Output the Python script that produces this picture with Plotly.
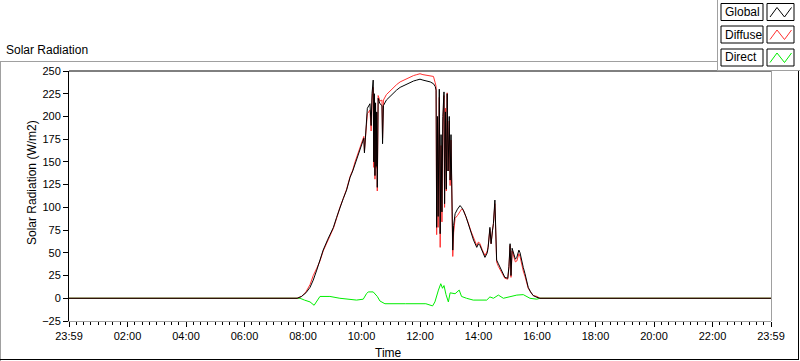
import plotly.graph_objects as go

# ---------------- data (hours since 23:59 of previous day) ----------------
global_t = [0.0, 7.80, 7.95, 8.10, 8.24, 8.35, 8.47, 8.58, 8.69, 8.85, 9.04, 9.15, 9.26, 9.38, 9.49,
            9.61, 9.70, 9.78, 9.90, 10.00, 10.08, 10.10, 10.13, 10.20, 10.29, 10.33, 10.36, 10.40,
            10.42, 10.44, 10.46, 10.48, 10.50, 10.52, 10.54, 10.57, 10.63, 10.70, 10.72, 10.75,
            10.85, 10.97, 11.10, 11.20, 11.32, 11.45, 11.55, 11.66, 11.78, 11.89, 12.00, 12.10,
            12.23, 12.35, 12.46, 12.52, 12.55, 12.57, 12.60, 12.62, 12.66, 12.69, 12.72, 12.75,
            12.78, 12.82, 12.84, 12.87, 12.90, 12.93, 12.96, 13.00, 13.03, 13.06, 13.10, 13.12,
            13.15, 13.20, 13.28, 13.37, 13.42, 13.48, 13.57, 13.65, 13.74, 13.83, 13.94, 14.00,
            14.05, 14.12, 14.22, 14.30, 14.33, 14.39, 14.43, 14.48, 14.51, 14.56, 14.59, 14.62,
            14.68, 14.74, 14.82, 14.90, 15.00, 15.04, 15.08, 15.11, 15.15, 15.20, 15.26, 15.31,
            15.38, 15.42, 15.47, 15.53, 15.59, 15.65, 15.70, 15.78, 15.87, 16.00, 16.10, 24.0]

global_v = [0, 0, 2, 6, 12, 20, 31, 42, 53, 65, 78, 89, 100, 110, 119,
            133, 140, 148, 160, 170, 176, 160, 178, 209, 214, 190, 225, 240,
            150, 225, 135, 215, 145, 205, 122, 220, 214, 212, 170, 212,
            218, 222, 226, 229, 232, 234, 236, 238, 239, 240, 241, 240,
            239, 238, 236, 233, 229, 78, 200, 90, 230, 71, 180, 95,
            200, 227, 104, 205, 120, 225, 140, 200, 130, 180, 95, 53,
            80, 93, 98, 102, 100, 97, 90, 82, 72, 64, 56, 60,
            58, 52, 45, 50, 56, 78, 60, 75, 82, 108, 70, 42,
            38, 34, 28, 23, 22, 35, 60, 25, 55, 50, 43, 45,
            53, 50, 42, 34, 27, 18, 12, 7, 3, 1, 0, 0]

diffuse_v = [0, 0, 2, 7, 15, 25, 33, 41, 52, 64, 77, 88, 100, 110, 120,
             134, 141, 150, 162, 172, 178, 162, 177, 203, 207, 184, 218, 232,
             144, 220, 131, 212, 143, 204, 118, 223, 217, 218, 176, 218,
             224, 228, 232, 235, 238, 240, 242, 244, 245, 246, 247, 246,
             245, 244, 244, 237, 233, 70, 194, 78, 221, 56, 168, 84,
             186, 223, 100, 209, 118, 226, 140, 195, 124, 174, 88, 46,
             72, 88, 91, 95, 98, 97, 90, 83, 74, 66, 58, 62,
             60, 54, 47, 52, 57, 76, 60, 75, 82, 104, 68, 40,
             35, 31, 27, 22, 21, 33, 58, 23, 52, 47, 40, 41,
             49, 46, 38, 30, 24, 16, 11, 7, 3, 2, 0, 0]

direct_t = [0.0, 7.90, 8.05, 8.24, 8.38, 8.47, 8.58, 8.92, 9.26, 9.83, 10.06, 10.17, 10.23,
            10.40, 10.45, 10.54, 10.63, 10.80, 11.50, 12.20, 12.43, 12.51, 12.63, 12.71,
            12.77, 12.82, 12.89, 12.97, 13.03, 13.20, 13.34, 13.42, 13.59, 13.82, 14.28,
            14.39, 14.51, 14.68, 14.85, 15.08, 15.31, 15.53, 15.65, 15.76, 15.99, 16.10, 24.0]
direct_v = [0, 0, -2, -4, -7.7, -3, 2, 2, 0, -2, -1, 5, 7,
            7, 5, 2, -3, -6, -6, -6, -8.4, -4, 9, 16,
            11, 14, 4, -4, 6, 5, 9, 2, 0, -2, -2,
            1.5, 0, 3.5, 0, 1.5, 3.5, 4, 1.5, 0, -1, 0, 0]

tick_vals = [0, 2, 4, 6, 8, 10, 12, 14, 16, 18, 20, 22, 24]
tick_text = ["23:59", "02:00", "04:00", "06:00", "08:00", "10:00", "12:00",
             "14:00", "16:00", "18:00", "20:00", "22:00", "23:59"]
y_ticks = [-25, 0, 25, 50, 75, 100, 125, 150, 175, 200, 225, 250]

series_names = ["Global", "Diffuse", "Direct"]
series_colors = ["#000000", "#ff3030", "#00ee00"]

# ---------------- layout geometry (pixels) ----------------
L, R, T, B = 69, 29, 71, 40
W, H = 800, 361
PW, PH = W - L - R, H - T - B


def px(x):
    return (x - L) / PW


def py(y):
    return (H - B - y) / PH


FONT = "Liberation Sans, Arial, sans-serif"

fig = go.Figure()
fig.add_trace(go.Scatter(x=direct_t, y=direct_v, mode="lines", name="Direct",
                         line=dict(color=series_colors[2], width=1)))
fig.add_trace(go.Scatter(x=global_t, y=diffuse_v, mode="lines", name="Diffuse",
                         line=dict(color=series_colors[1], width=1)))
fig.add_trace(go.Scatter(x=global_t, y=global_v, mode="lines", name="Global",
                         line=dict(color=series_colors[0], width=1)))

shapes = []


def line(x0, y0, x1, y1, color, w=1):
    shapes.append(dict(type="line", xref="paper", yref="paper", x0=px(x0), y0=py(y0),
                       x1=px(x1), y1=py(y1), line=dict(color=color, width=w), layer="above"))


def rect(x0, y0, x1, y1, color, fill="white"):
    shapes.append(dict(type="rect", xref="paper", yref="paper", x0=px(x0), y0=py(y0),
                       x1=px(x1), y1=py(y1), line=dict(color=color, width=1),
                       fillcolor=fill, layer="above"))


GRAY = "#a0a0a0"
# outer panel
line(0, 61.5, 717, 61.5, GRAY)
line(0.5, 61, 0.5, 361, GRAY)
line(0, 359.5, 799, 359.5, "#000000")
line(798.5, 71, 798.5, 360, "#000000")
# plot frame (top black, right gray)
line(69, 71, 771.5, 71, "#000000")
line(771.5, 71, 771.5, 321, GRAY)
# legend panel
rect(717.5, -3, 803, 70.5, GRAY)

annotations = []
rows = [(3.5, 20.5), (26, 43), (49, 66)]
for (y0, y1), name, col in zip(rows, series_names, series_colors):
    rect(721, y0, 763, y1, "#000000")
    rect(767, y0, 794, y1, "#000000")
    zy0, zy1 = y1 - 3.5, y0 + 4
    path = "M {} {} L {} {} L {} {} L {} {}".format(
        px(770), py(zy0), px(777), py(zy1), px(784.5), py(zy0), px(791.5), py(zy1))
    shapes.append(dict(type="path", xref="paper", yref="paper", path=path,
                       line=dict(color=col, width=1), layer="above"))
    annotations.append(dict(text=name, xref="paper", yref="paper", x=px(723),
                            y=py((y0 + y1) / 2), xanchor="left", yanchor="middle",
                            showarrow=False, font=dict(family=FONT, size=12, color="#000000")))

annotations.append(dict(text="Solar Radiation", xref="paper", yref="paper", x=px(4), y=py(50),
                        xanchor="left", yanchor="middle", showarrow=False,
                        font=dict(family=FONT, size=12, color="#000000")))
annotations.append(dict(text="Solar Radiation (W/m2)", xref="paper", yref="paper", x=px(32),
                        y=py(183), xanchor="center", yanchor="middle", textangle=-90,
                        showarrow=False, font=dict(family=FONT, size=12, color="#000000")))
annotations.append(dict(text="Time", xref="paper", yref="paper", x=px(388), y=py(353),
                        xanchor="center", yanchor="middle", showarrow=False,
                        font=dict(family=FONT, size=12, color="#000000")))

fig.update_layout(
    width=W, height=H,
    margin=dict(l=L, r=R, t=T, b=B, pad=0),
    paper_bgcolor="white", plot_bgcolor="white",
    showlegend=False,
    shapes=shapes, annotations=annotations,
    font=dict(family=FONT, size=11, color="#000000"),
    xaxis=dict(range=[0, 24], tickmode="array", tickvals=tick_vals, ticktext=tick_text,
               showgrid=False, zeroline=False, showline=True, linecolor=GRAY, linewidth=1,
               ticks="outside", ticklen=5, tickcolor="#000000", tickwidth=1,
               tickfont=dict(family=FONT, size=11, color="#000000"),
               minor=dict(ticks="outside", dtick=0.25, tick0=0, ticklen=3,
                          tickcolor="#000000", showgrid=False)),
    yaxis=dict(range=[-25, 250], tickmode="array", tickvals=y_ticks,
               showgrid=False, zeroline=False, showline=True, linecolor="#000000", linewidth=1,
               ticks="outside", ticklen=5, tickcolor="#000000",
               tickfont=dict(family=FONT, size=11, color="#000000")),
)

fig.write_html("out.html", config={"displayModeBar": False},
               post_script="document.body.style.margin='0';document.body.style.padding='0';")
